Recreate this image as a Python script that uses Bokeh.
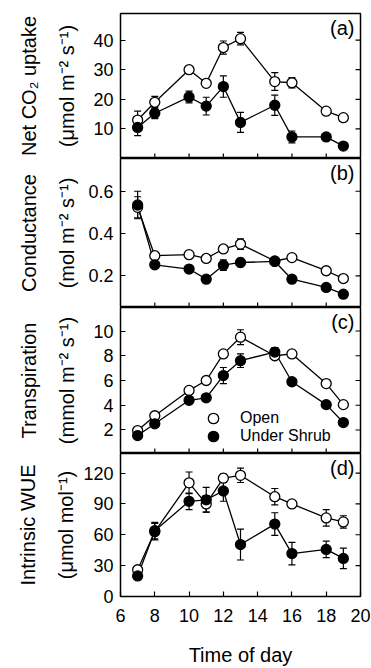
import math
from bokeh.plotting import figure
from bokeh.layouts import column
from bokeh.models import ColumnDataSource, Whisker, LinearAxis, FixedTicker, Range1d, Label, Legend, LegendItem
from bokeh.embed import file_html
from bokeh.resources import INLINE

# ---------------- data ----------------
hours = [7, 8, 10, 11, 12, 13, 15, 16, 18, 19]

co2_open = [13, 19, 30, 25.4, 37.5, 40.5, 26, 25.6, 16, 13.8]
co2_open_err = [3, 2, 0.8, 0.8, 2.2, 2.1, 3, 1.7, 1, 0.8]
co2_shrub = [10.5, 15.3, 20.8, 17.7, 24.3, 12.2, 18, 7.3, 7.3, 4.2]
co2_shrub_err = [2.8, 1.8, 2, 3, 3.6, 3.4, 3.4, 2, 1, 0.5]

cond_open = [0.524, 0.295, 0.30, 0.282, 0.327, 0.35, 0.27, 0.286, 0.224, 0.187]
cond_open_err = [0.05, 0.01, 0.01, 0.01, 0.01, 0.025, 0.01, 0.01, 0.01, 0.01]
cond_shrub = [0.535, 0.252, 0.232, 0.184, 0.25, 0.263, 0.268, 0.184, 0.145, 0.113]
cond_shrub_err = [0.065, 0.01, 0.01, 0.01, 0.025, 0.02, 0.01, 0.01, 0.01, 0.01]

tr_open = [1.95, 3.15, 5.2, 6.0, 8.15, 9.5, 8.0, 8.15, 5.75, 4.05]
tr_open_err = [0.15, 0.15, 0.15, 0.15, 0.2, 0.6, 0.15, 0.15, 0.15, 0.15]
tr_shrub = [1.55, 2.5, 4.4, 4.6, 6.4, 7.6, 8.3, 5.9, 4.05, 2.6]
tr_shrub_err = [0.2, 0.2, 0.2, 0.2, 0.65, 0.55, 0.35, 0.2, 0.2, 0.2]

wue_open = [26, 63, 110.5, 90, 115, 117.8, 97, 90, 76.4, 72.5]
wue_open_err = [3, 8, 10.5, 8, 4, 7, 8, 3, 8, 6]
wue_shrub = [20, 64, 92.5, 94, 102.6, 50.5, 70.4, 41.7, 45.8, 37]
wue_shrub_err = [2, 8, 8, 12, 10, 15, 11, 11, 8, 10]

x_ticks = [6, 8, 10, 12, 14, 16, 18, 20]
x_inner_ticks = [8, 10, 12, 14, 16, 18]

panels = [
    dict(tag="(a)", line1="Net CO\u2082 uptake", line2="(\u03bcmol m\u207b\u00b2 s\u207b\u00b9)",
         yr=(0, 49), ticks=[10, 20, 30, 40],
         o=co2_open, oe=co2_open_err, s=co2_shrub, se=co2_shrub_err, standoff=12),
    dict(tag="(b)", line1="Conductance", line2="(mol m\u207b\u00b2 s\u207b\u00b9)",
         yr=(0.05, 0.755), ticks=[0.2, 0.4, 0.6],
         o=cond_open, oe=cond_open_err, s=cond_shrub, se=cond_shrub_err, standoff=7),
    dict(tag="(c)", line1="Transpiration", line2="(mmol m\u207b\u00b2 s\u207b\u00b9)",
         yr=(0.1, 11.9), ticks=[2, 4, 6, 8, 10],
         o=tr_open, oe=tr_open_err, s=tr_shrub, se=tr_shrub_err, standoff=12),
    dict(tag="(d)", line1="Intrinsic WUE", line2="(\u03bcmol mol\u207b\u00b9)",
         yr=(0, 139), ticks=[0, 30, 60, 90, 120],
         o=wue_open, oe=wue_open_err, s=wue_shrub, se=wue_shrub_err, standoff=3),
]

FONT = "Liberation Sans"
frame_heights = [145, 149, 146, 147]
top_border = 13
bottom_border = 68

figs = []
for i, pd_ in enumerate(panels):
    last = i == len(panels) - 1
    h = frame_heights[i] + (top_border if i == 0 else 0) + (bottom_border if last else 0)
    y0, y1 = pd_["yr"]
    p = figure(width=371, height=h, output_backend="svg", toolbar_location=None,
               x_range=Range1d(6, 20), y_range=Range1d(y0, y1),
               min_border_left=120, min_border_right=11,
               min_border_top=top_border if i == 0 else 0,
               min_border_bottom=bottom_border if last else 0)
    p.xgrid.visible = False
    p.ygrid.visible = False
    p.outline_line_color = "black"
    p.outline_line_width = 1.5
    p.background_fill_color = "white"
    p.border_fill_color = "white"

    # x axis
    xa = p.xaxis[0]
    if last:
        xa.ticker = FixedTicker(ticks=x_ticks)
        xa.major_tick_in = 5
        xa.major_tick_out = 0
        xa.minor_tick_line_color = None
        xa.axis_line_color = None
        xa.major_tick_line_width = 1.2
        xa.major_label_text_font = FONT
        xa.major_label_text_font_size = "18px"
        xa.major_label_text_color = "black"
        xa.major_label_standoff = 12
        xa.axis_label = "Time of day"
        xa.axis_label_text_font = FONT
        xa.axis_label_text_font_size = "20px"
        xa.axis_label_text_font_style = "normal"
        xa.axis_label_text_color = "black"
        xa.axis_label_standoff = 19
    else:
        xa.visible = False
        # inward tick marks along the bottom edge
        p.ray(x=x_inner_ticks, y=[y0] * len(x_inner_ticks), length=5, length_units="screen",
              angle=math.pi / 2, line_color="black", line_width=1.2)

    # left y axis (tick labels + second label line)
    ya = p.yaxis[0]
    ya.ticker = FixedTicker(ticks=pd_["ticks"])
    ya.major_tick_in = 5
    ya.major_tick_out = 0
    ya.minor_tick_line_color = None
    ya.axis_line_color = None
    ya.major_tick_line_width = 1.2
    ya.major_label_text_font = FONT
    ya.major_label_text_font_size = "18px"
    ya.major_label_text_color = "black"
    ya.major_label_standoff = 7
    ya.axis_label = pd_["line2"]
    ya.axis_label_text_font = FONT
    ya.axis_label_text_font_size = "20px"
    ya.axis_label_text_font_style = "normal"
    ya.axis_label_text_color = "black"
    ya.axis_label_standoff = pd_["standoff"]

    # outer axis carrying only the first label line
    la = LinearAxis(ticker=FixedTicker(ticks=[]), axis_line_color=None, major_tick_out=0,
                    major_tick_in=0, minor_tick_line_color=None, major_label_standoff=0,
                    axis_label=pd_["line1"], axis_label_text_font=FONT,
                    axis_label_text_font_size="20px", axis_label_text_font_style="normal",
                    axis_label_text_color="black", axis_label_standoff=14)
    p.add_layout(la, "left")

    # inward tick marks along the right edge
    p.ray(x=[20] * len(pd_["ticks"]), y=pd_["ticks"], length=5, length_units="screen",
          angle=math.pi, line_color="black", line_width=1.2)

    so = ColumnDataSource(dict(x=hours, y=pd_["o"],
                               lo=[v - e for v, e in zip(pd_["o"], pd_["oe"])],
                               hi=[v + e for v, e in zip(pd_["o"], pd_["oe"])]))
    ss = ColumnDataSource(dict(x=hours, y=pd_["s"],
                               lo=[v - e for v, e in zip(pd_["s"], pd_["se"])],
                               hi=[v + e for v, e in zip(pd_["s"], pd_["se"])]))

    p.line("x", "y", source=so, line_color="black", line_width=1.3)
    p.line("x", "y", source=ss, line_color="black", line_width=1.3)
    for src in (so, ss):
        w = Whisker(base="x", upper="hi", lower="lo", source=src, line_color="black", line_width=1.2)
        w.upper_head.size = 7
        w.lower_head.size = 7
        w.upper_head.line_width = 1.2
        w.lower_head.line_width = 1.2
        p.add_layout(w)
    r_open = p.scatter("x", "y", source=so, size=10, fill_color="white", line_color="black", line_width=1.3)
    r_shrub = p.scatter("x", "y", source=ss, size=10, fill_color="black", line_color="black", line_width=1.3)

    p.add_layout(Label(x=19.65, y=y1 - 0.025 * (y1 - y0), text=pd_["tag"], text_align="right",
                       text_baseline="top", text_font=FONT, text_font_size="20px", text_color="black"))

    if i == 2:
        common = dict(padding=0, margin=0, spacing=0, glyph_width=26, glyph_height=26,
                      label_height=14, label_standoff=14, label_text_font=FONT,
                      label_text_font_size="16px", label_text_color="black",
                      background_fill_alpha=0, border_line_alpha=0)
        leg1 = Legend(items=[LegendItem(label="Open", renderers=[r_open])],
                      location=(80, 22), **common)
        leg2 = Legend(items=[LegendItem(label="Under Shrub", renderers=[r_shrub])],
                      location=(80, 4), **common)
        p.add_layout(leg1, "center")
        p.add_layout(leg2, "center")
    figs.append(p)

layout = column(*figs, spacing=0)
open("out.html", "w").write(file_html(layout, INLINE))
